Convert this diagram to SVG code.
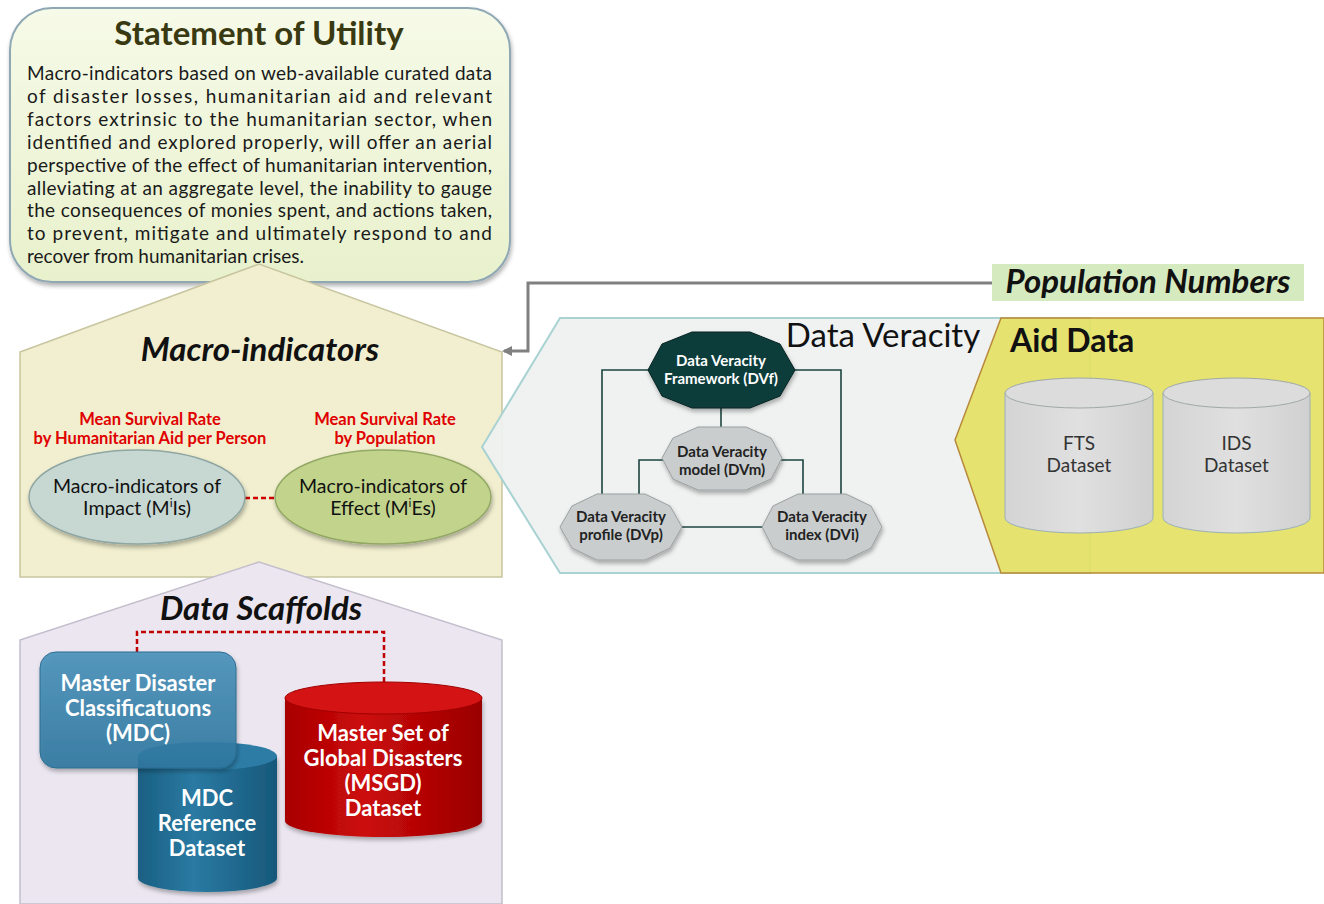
<svg xmlns="http://www.w3.org/2000/svg" width="1324" height="904" viewBox="0 0 1324 904">
<defs>
<linearGradient id="gStmt" x1="0" y1="0" x2="0" y2="1"><stop offset="0" stop-color="#f6fae8"/><stop offset="1" stop-color="#e8f1cc"/></linearGradient>
<linearGradient id="gBlue" x1="0" y1="0" x2="0" y2="1"><stop offset="0" stop-color="#4a93bb"/><stop offset="1" stop-color="#2f77a0"/></linearGradient>
<linearGradient id="gCylB" x1="0" y1="0" x2="1" y2="0"><stop offset="0" stop-color="#1a5f82"/><stop offset="0.4" stop-color="#2a7aa3"/><stop offset="1" stop-color="#17587a"/></linearGradient>
<linearGradient id="gCylR" x1="0" y1="0" x2="1" y2="0"><stop offset="0" stop-color="#a80000"/><stop offset="0.4" stop-color="#cc0a0a"/><stop offset="1" stop-color="#9a0000"/></linearGradient>
<linearGradient id="gGray" x1="0" y1="0" x2="1" y2="0"><stop offset="0" stop-color="#d4d4d4"/><stop offset="0.5" stop-color="#e0e0e0"/><stop offset="1" stop-color="#d0d0d0"/></linearGradient>
<marker id="arr" markerWidth="10" markerHeight="10" refX="8" refY="5" orient="auto" markerUnits="userSpaceOnUse"><path d="M0,0 L10,5 L0,10 Z" fill="#808080"/></marker>
<filter id="sh" x="-10%" y="-10%" width="120%" height="130%"><feDropShadow dx="1" dy="3" stdDeviation="2" flood-color="#000" flood-opacity="0.3"/></filter>
</defs>
<style>
text{font-family:Lato,"Open Sans","Liberation Sans",sans-serif}
.body{font-size:19px;fill:#1a1a1a}
.ttl{font-size:33px;font-weight:bold;font-style:italic;fill:#111;text-anchor:middle}
.red{font-size:16.5px;font-weight:bold;fill:#e00000;text-anchor:middle}
.ell{font-size:19.5px;fill:#111;text-anchor:middle}
.wb{font-size:22px;font-weight:bold;fill:#fff;text-anchor:middle}
.dvw{font-size:15px;font-weight:bold;fill:#fff;text-anchor:middle}
.dvk{font-size:15px;font-weight:bold;fill:#222;text-anchor:middle}
.cyl{font-size:19px;fill:#333;text-anchor:middle}
.conn{fill:none;stroke:#1d4440;stroke-width:1.6}
.oct{stroke:#9aa0a0;stroke-width:1}
</style>

<g id="statement">
<rect x="10" y="8" width="500" height="274" rx="42" fill="url(#gStmt)" stroke="#8fa8b4" stroke-width="2" filter="url(#sh)"/>
<text x="259" y="45" text-anchor="middle" font-size="33" font-weight="bold" fill="#3a3a12">Statement of Utility</text>
<g class="body">
<text x="27" y="80" textLength="465" lengthAdjust="spacing">Macro-indicators based on web-available curated data</text>
<text x="27" y="103" textLength="465" lengthAdjust="spacing">of disaster losses, humanitarian aid and relevant</text>
<text x="27" y="126" textLength="465" lengthAdjust="spacing">factors extrinsic to the humanitarian sector, when</text>
<text x="27" y="149" textLength="465" lengthAdjust="spacing">identified and explored properly, will offer an aerial</text>
<text x="27" y="172" textLength="465" lengthAdjust="spacing">perspective of the effect of humanitarian intervention,</text>
<text x="27" y="195" textLength="465" lengthAdjust="spacing">alleviating at an aggregate level, the inability to gauge</text>
<text x="27" y="217" textLength="465" lengthAdjust="spacing">the consequences of monies spent, and actions taken,</text>
<text x="27" y="240" textLength="465" lengthAdjust="spacing">to prevent, mitigate and ultimately respond to and</text>
<text x="27" y="263">recover from humanitarian crises.</text>
</g>
</g>

<g id="macro">
<polygon points="20,352 259,264 502,352 502,577 20,577" fill="#f1efcf" stroke="#c8c6a0" stroke-width="1.5"/>
<text class="ttl" x="260" y="361">Macro-indicators</text>
<text class="red" x="150" y="425">Mean Survival Rate</text>
<text class="red" x="150" y="444">by Humanitarian Aid per Person</text>
<text class="red" x="385" y="425">Mean Survival Rate</text>
<text class="red" x="385" y="444">by Population</text>
</g>

<g id="data-veracity">
<polygon points="482,447 560,318 1090,318 1090,573 560,573" fill="#eef1f0" fill-opacity="0.92" stroke="#a9d2d2" stroke-width="2"/>
<text x="883" y="347" text-anchor="middle" font-size="33" fill="#111">Data Veracity</text>
</g>

<g id="aid-data">
<polygon points="955,440 1001,318 1324,318 1324,573 1001,573" fill="#e3e060" fill-opacity="0.9" stroke="#b8893a" stroke-width="1.5"/>
<text x="1010" y="352" font-size="32" font-weight="bold" fill="#111">Aid Data</text>
</g>

<g id="population">
<rect x="992" y="264" width="312" height="37" fill="#d6eac0"/>
<text x="1148" y="293" text-anchor="middle" font-size="33" font-weight="bold" font-style="italic" fill="#111">Population Numbers</text>
</g>

<g id="scaffolds">
<polygon points="20,640 259,562 502,640 502,904 20,904" fill="#ebe6f0" stroke="#c4bfcc" stroke-width="1.5"/>
<text class="ttl" x="261" y="620">Data Scaffolds</text>
</g>

<g id="connectors">
<polyline points="992,283 528,283 528,351 504,351" fill="none" stroke="#808080" stroke-width="3" marker-end="url(#arr)"/>
<line x1="245" y1="498" x2="275" y2="498" stroke="#d00000" stroke-width="2.5" stroke-dasharray="5,3"/>
<polyline points="137,652 137,632 384,632 384,684" fill="none" stroke="#c00000" stroke-width="2.5" stroke-dasharray="5,3"/>
<polyline class="conn" points="650,370 602,370 602,500"/>
<polyline class="conn" points="792,370 841,370 841,500"/>
<line class="conn" x1="721" y1="407" x2="721" y2="428"/>
<polyline class="conn" points="665,460 639,460 639,500"/>
<polyline class="conn" points="779,460 803,460 803,500"/>
<line class="conn" x1="680" y1="527" x2="764" y2="527"/>
</g>

<g id="mi-impact">
<ellipse cx="137" cy="497" rx="108" ry="47" fill="#c7d8d3" stroke="#8fa6a2" stroke-width="1.5" filter="url(#sh)"/>
<text class="ell" x="137" y="493">Macro-indicators of</text>
<text class="ell" x="137" y="515">Impact (M<tspan font-size="12" dy="-8">i</tspan><tspan dy="8">Is)</tspan></text>
</g>

<g id="mi-effect">
<ellipse cx="383" cy="497" rx="108" ry="47" fill="#c2d48c" stroke="#93a866" stroke-width="1.5" filter="url(#sh)"/>
<text class="ell" x="383" y="493">Macro-indicators of</text>
<text class="ell" x="383" y="515">Effect (M<tspan font-size="12" dy="-8">i</tspan><tspan dy="8">Es)</tspan></text>
</g>

<g id="dvf">
<polygon points="692,332 750,332 780,344 795,370 780,396 750,408 692,408 662,396 648,370 662,344" fill="#0e3d3a" stroke="#062220" stroke-width="1" filter="url(#sh)"/>
<text class="dvw" x="721" y="366">Data Veracity</text>
<text class="dvw" x="721" y="384">Framework (DVf)</text>
</g>

<g id="dvm">
<polygon points="698,427 746,427 771,438 782,458 771,479 746,490 698,490 673,479 662,458 673,438" fill="#c9cdcd" class="oct" filter="url(#sh)"/>
<text class="dvk" x="722" y="457">Data Veracity</text>
<text class="dvk" x="722" y="475">model (DVm)</text>
</g>

<g id="dvp">
<polygon points="597,494 645,494 670,506 682,527 670,548 645,560 597,560 572,548 560,527 572,506" fill="#c9cdcd" class="oct" filter="url(#sh)"/>
<text class="dvk" x="621" y="522">Data Veracity</text>
<text class="dvk" x="621" y="540">profile (DVp)</text>
</g>

<g id="dvi">
<polygon points="798,494 846,494 871,506 882,527 871,548 846,560 798,560 773,548 762,527 773,506" fill="#c9cdcd" class="oct" filter="url(#sh)"/>
<text class="dvk" x="822" y="522">Data Veracity</text>
<text class="dvk" x="822" y="540">index (DVi)</text>
</g>

<g id="fts">
<path d="M1005,393 V518 A74,15 0 0 0 1153,518 V393 Z" fill="url(#gGray)" stroke="#9ab0b8" stroke-width="1"/>
<ellipse cx="1079" cy="393" rx="74" ry="15" fill="#dcdcdc" stroke="#a0a8a8" stroke-width="1"/>
<text class="cyl" x="1079" y="450">FTS</text>
<text class="cyl" x="1079" y="472">Dataset</text>
</g>

<g id="ids">
<path d="M1163,393 V518 A73.5,15 0 0 0 1310,518 V393 Z" fill="url(#gGray)" stroke="#9ab0b8" stroke-width="1"/>
<ellipse cx="1236.5" cy="393" rx="73.5" ry="15" fill="#dcdcdc" stroke="#a0a8a8" stroke-width="1"/>
<text class="cyl" x="1236.5" y="450">IDS</text>
<text class="cyl" x="1236.5" y="472">Dataset</text>
</g>

<g id="mdc-ref">
<path d="M138,756 V878 A69.5,14 0 0 0 277,878 V756 Z" fill="url(#gCylB)" filter="url(#sh)"/>
<ellipse cx="207.5" cy="756" rx="69.5" ry="14" fill="#2c7ca6"/>
<text class="wb" x="207" y="806">MDC</text>
<text class="wb" x="207" y="831">Reference</text>
<text class="wb" x="207" y="856">Dataset</text>
</g>

<g id="mdc">
<rect x="40" y="652" width="196" height="116" rx="16" fill="url(#gBlue)" fill-opacity="0.9" stroke="#2a6d92" stroke-width="1" filter="url(#sh)"/>
<text class="wb" x="138" y="691">Master Disaster</text>
<text class="wb" x="138" y="716">Classificatuons</text>
<text class="wb" x="138" y="741">(MDC)</text>
</g>

<g id="msgd">
<path d="M285,698 V821 A98.5,16 0 0 0 482,821 V698 Z" fill="url(#gCylR)" filter="url(#sh)"/>
<ellipse cx="383.5" cy="698" rx="98.5" ry="16" fill="#d41414" stroke="#a00000" stroke-width="1"/>
<text class="wb" x="383" y="741">Master Set of</text>
<text class="wb" x="383" y="766">Global Disasters</text>
<text class="wb" x="383" y="791">(MSGD)</text>
<text class="wb" x="383" y="816">Dataset</text>
</g>
</svg>
